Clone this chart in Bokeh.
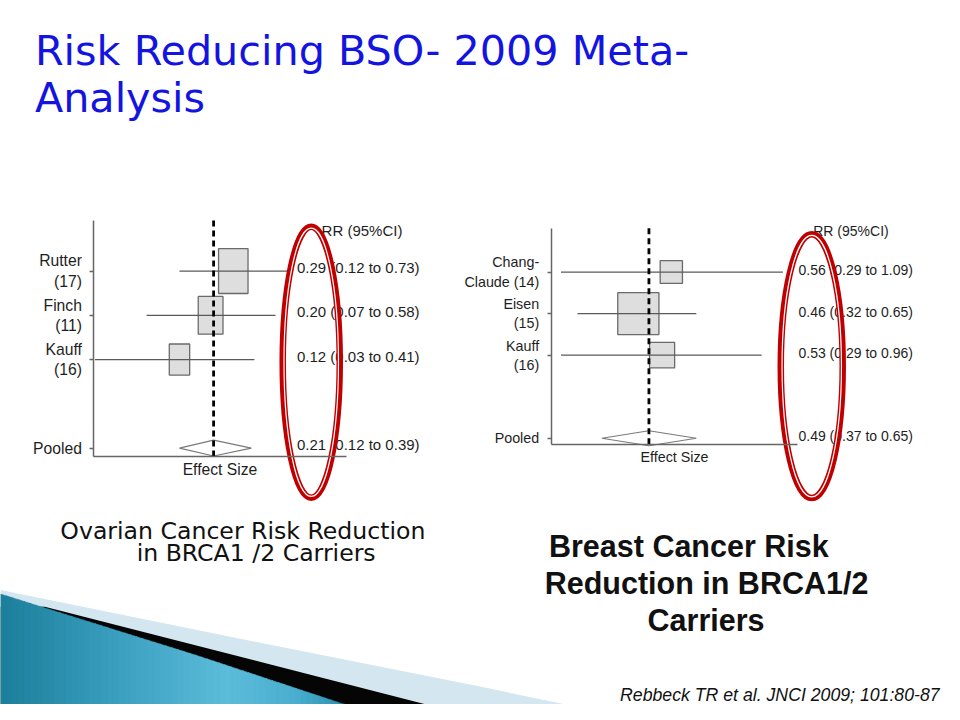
import math
from bokeh.plotting import figure
from bokeh.models import Range1d, LogScale, LinearScale, LinearAxis, LogAxis, FixedTicker
from bokeh.core.properties import value
from bokeh.embed import file_html
from bokeh.resources import INLINE

# ---------------- data ----------------
title_lines = ["Risk Reducing BSO- 2009 Meta-", "Analysis"]

ov_labels = ["Rutter\n(17)", "Finch\n(11)", "Kauff\n(16)"]
ov_rr = [0.29, 0.20, 0.12]
ov_lo = [0.12, 0.07, 0.03]
ov_hi = [0.73, 0.58, 0.41]
ov_weight = [45.8, 32.3, 21.9]
ov_pooled = [0.21, 0.12, 0.39]

br_labels = ["Chang-\nClaude (14)", "Eisen\n(15)", "Kauff\n(16)"]
br_rr = [0.56, 0.46, 0.53]
br_lo = [0.29, 0.32, 0.29]
br_hi = [1.09, 0.65, 0.96]
br_weight = [17.6, 60.1, 22.3]
br_pooled = [0.49, 0.37, 0.65]

pooled_label = "Pooled"
study_rows = [1, 2, 3]
pooled_row = 5
header = "RR (95%CI)"
xlabel = "Effect Size"

ov_caption = ["Ovarian Cancer Risk Reduction", "in BRCA1 /2 Carriers"]
br_caption = ["Breast Cancer Risk", "Reduction in BRCA1/2", "Carriers"]
citation = "Rebbeck TR et al. JNCI 2009; 101:80-87"

# ---------------- page / figure ----------------
FW, FH = 944, 704            # figure size in screen px
SW, SH = 960, 720            # slide coordinate system (data units of default ranges)
S = FW / SW                  # screen px per slide unit

def fs(px):
    return f"{px * S:.1f}px"

p = figure(width=FW, height=FH, x_range=Range1d(0, SW), y_range=Range1d(SH, 0),
           x_axis_type=None, y_axis_type=None, toolbar_location=None,
           output_backend="svg", min_border=0)
p.outline_line_color = None
p.background_fill_color = "white"
p.border_fill_color = "white"

# ---------------- decorative swoosh (bottom left) ----------------
p.patch([0, 230, 480, 575, 575, 0], [603, 650, 700, 720, 730, 730], color="#d4e6ef", line_width=0)
p.patch([45, 433, 433, 0, 0], [620, 720, 730, 730, 620], color="#050505", line_width=0)

teal_edge = [(0, 607), (57, 625), (200, 670), (350, 720)]
stops = [(0, (27, 126, 154)), (120, (59, 159, 192)), (230, (92, 188, 217)),
         (300, (74, 174, 208)), (350, (43, 143, 179))]

def edge_y(x):
    for (a, ya), (b, yb) in zip(teal_edge, teal_edge[1:]):
        if a <= x <= b:
            return ya + (yb - ya) * (x - a) / (b - a)
    return teal_edge[-1][1]

def grad(x):
    for (a, ca), (b, cb) in zip(stops, stops[1:]):
        if a <= x <= b:
            t = (x - a) / (b - a)
            c = [int(round(ca[i] + (cb[i] - ca[i]) * t)) for i in range(3)]
            return "#%02x%02x%02x" % tuple(c)
    return "#%02x%02x%02x" % stops[-1][1]

xs, ys, cs = [], [], []
step = 6
for xa in range(0, 350, step):
    xb = min(xa + step, 350)
    xs.append([xa, xb + 1, xb + 1, xa])
    ys.append([edge_y(xa), edge_y(min(xb + 1, 350)), 730, 730])
    cs.append(grad((xa + xb) / 2))
p.patches(xs, ys, fill_color=cs, line_color=cs, line_width=0.5)

# ---------------- title ----------------
p.text(x=[35, 35], y=[52, 100], text=title_lines, text_font=value("DejaVu Sans"),
       text_font_size=fs(42), text_color="#1414e0", text_baseline="alphabetic", text_align="left")

# ---------------- forest panels ----------------
def panel(name, labels, rr, lo, hi, weight, pooled, px, xlim, py, ylim, box_k, font_px, tick_px,
          rr_x, rr_dy, head_xy):
    xn, yn = name + "x", name + "y"
    # log x mapping spanning the whole frame
    la, lb = math.log(xlim[0]), math.log(xlim[1])
    per = (lb - la) / (px[1] - px[0])
    p.extra_x_ranges[xn] = Range1d(math.exp(la + (0 - px[0]) * per), math.exp(la + (SW - px[0]) * per))
    p.extra_x_scales[xn] = LogScale()
    perY = (ylim[1] - ylim[0]) / (py[1] - py[0])
    p.extra_y_ranges[yn] = Range1d(ylim[0] + (SH - py[0]) * perY, ylim[0] + (0 - py[0]) * perY)
    p.extra_y_scales[yn] = LinearScale()

    kw = dict(x_range_name=xn, y_range_name=yn)
    # boxes (area ~ weight)
    bw = [box_k[0] * S * math.sqrt(w) for w in weight]
    bh = [box_k[1] * S * math.sqrt(w) for w in weight]
    p.rect(x=rr, y=study_rows, width=bw, height=bh, width_units="screen", height_units="screen",
           fill_color="#dedede", line_color="#6a6a6a", line_width=1.3, **kw)
    # CI lines
    p.segment(x0=lo, y0=study_rows, x1=hi, y1=study_rows, line_color="#5a5a5a", line_width=1.2, **kw)
    # pooled diamond
    e, l, h = pooled
    d = 0.18
    p.patch([l, e, h, e, l], [pooled_row, pooled_row - d, pooled_row, pooled_row + d, pooled_row],
            fill_color="white", line_color="#7a7a7a", line_width=1.2, **kw)
    # dashed line at pooled estimate
    p.segment(x0=[e], y0=[ylim[0]], x1=[e], y1=[ylim[1]], line_color="black", line_width=2.8,
              line_dash="6 4", **kw)

    # axes
    yax = LinearAxis(x_range_name=xn, y_range_name=yn, fixed_location=xlim[0],
                     bounds=(min(ylim), max(ylim)),
                     ticker=FixedTicker(ticks=study_rows + [pooled_row], minor_ticks=[]))
    yax.major_label_overrides = {r: lab for r, lab in zip(study_rows, labels)} | {pooled_row: pooled_label}
    yax.major_label_text_font = "Liberation Sans"
    yax.major_label_text_font_size = fs(tick_px)
    yax.major_label_text_color = "#1e1e1e"
    yax.major_label_standoff = 8
    yax.major_tick_out = 4
    yax.major_tick_in = 0
    yax.minor_tick_out = 0
    yax.axis_line_color = "#666666"
    yax.axis_line_width = 1.5
    yax.major_tick_line_color = "#666666"
    yax.major_tick_line_width = 1.5
    p.add_layout(yax, "left")

    xax = LogAxis(x_range_name=xn, y_range_name=yn, fixed_location=ylim[1],
                  bounds=xlim, ticker=FixedTicker(ticks=[], minor_ticks=[]), axis_label=xlabel)
    xax.axis_label_text_font = "Liberation Sans"
    xax.axis_label_text_font_style = "normal"
    xax.axis_label_text_font_size = fs(tick_px)
    xax.axis_label_text_color = "#1e1e1e"
    xax.axis_label_standoff = 4
    xax.axis_line_color = "#666666"
    xax.axis_line_width = 1.5
    xax.major_tick_out = 0
    xax.minor_tick_out = 0
    xax.major_label_text_font_size = "0px"
    p.add_layout(xax, "below")

    # RR column
    txt = [f"{a:.2f} ({b:.2f} to {c:.2f})" for a, b, c in zip(rr, lo, hi)]
    txt.append(f"{e:.2f} ({l:.2f} to {h:.2f})")
    p.text(x=[rr_x] * 4, y=study_rows + [pooled_row], text=txt, y_offset=rr_dy,
           text_font=value("Liberation Sans"), text_font_size=fs(font_px), text_color="#1e1e1e",
           text_baseline="middle", text_align="left", y_range_name=yn)
    p.text(x=[head_xy[0]], y=[head_xy[1]], text=[header], text_font=value("Liberation Sans"),
           text_font_size=fs(font_px), text_color="#1e1e1e", text_baseline="middle", text_align="left")


panel("ov", ov_labels, ov_rr, ov_lo, ov_hi, ov_weight, ov_pooled,
      px=(95, 352), xlim=(0.0295, 1.861), py=(225, 466), ylim=(-0.1425, 5.183),
      box_k=(4.43, 6.75), font_px=15.3, tick_px=16, rr_x=301.5, rr_dy=-3.5, head_xy=(326.5, 235))
panel("br", br_labels, br_rr, br_lo, br_hi, br_weight, br_pooled,
      px=(560, 810), xlim=(0.2734, 1.1855), py=(233, 454), ylim=(-0.0518, 5.148),
      box_k=(5.4, 5.5), font_px=14.2, tick_px=14.5, rr_x=811.5, rr_dy=-2.0, head_xy=(826.5, 236))

# ---------------- red highlight ellipses ----------------
ell_x = [316, 825]
ell_y = [370, 374]
ell_w = [58, 63]
ell_h = [277, 270]
p.ellipse(x=ell_x, y=ell_y, width=ell_w, height=ell_h, fill_alpha=0, line_color="#c00000", line_width=6.5)
p.ellipse(x=ell_x, y=ell_y, width=[w - 2.6 for w in ell_w], height=[h - 2.6 for h in ell_h],
          fill_alpha=0, line_color="white", line_width=1.2)

# ---------------- captions ----------------
p.text(x=[246.5, 260], y=[543, 565], text=ov_caption, text_font=value("DejaVu Sans"),
       text_font_size=fs(24), text_color="#111111", text_baseline="alphabetic", text_align="center")
p.text(x=[700, 718, 717.5], y=[558, 596, 634], text=br_caption, text_font=value("Liberation Sans"),
       text_font_size=fs(31), text_font_style="bold", text_color="#111111",
       text_baseline="alphabetic", text_align="center")
p.text(x=[955], y=[710], text=[citation], text_font=value("Liberation Sans"), text_font_size=fs(18),
       text_font_style="italic", text_color="#111111", text_baseline="alphabetic", text_align="right")

open("out.html", "w").write(file_html(p, INLINE))
